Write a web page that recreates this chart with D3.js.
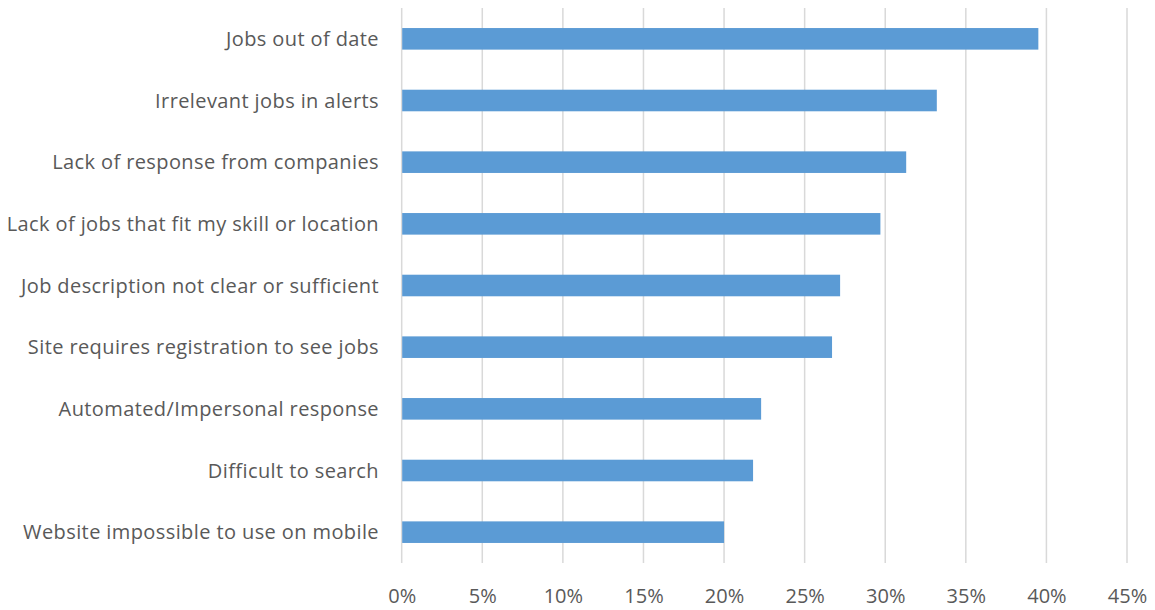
<!DOCTYPE html>
<html>
<head>
<meta charset="utf-8">
<script src="https://cdn.jsdelivr.net/npm/d3@7"></script>
<style>
  html, body { margin: 0; padding: 0; background: #fff; }
  svg { display: block; }
  text { font-family: "Open Sans", "Segoe UI", sans-serif; fill: #595959; }
</style>
</head>
<body>
<svg id="chart" width="1155" height="610"></svg>
<script>
// Complaints about job sites, share of respondents
const categories = [
  "Jobs out of date",
  "Irrelevant jobs in alerts",
  "Lack of response from companies",
  "Lack of jobs that fit my skill or location",
  "Job description not clear or sufficient",
  "Site requires registration to see jobs",
  "Automated/Impersonal response",
  "Difficult to search",
  "Website impossible to use on mobile"
];
const values = [39.5, 33.2, 31.3, 29.7, 27.2, 26.7, 22.3, 21.8, 20.0];
const ticks = [0, 5, 10, 15, 20, 25, 30, 35, 40, 45];

const svg = d3.select("#chart");
const margin = { top: 8, right: 28, bottom: 47, left: 401.7 };
const W = 1155, H = 610;

const x = d3.scaleLinear()
  .domain([0, 45])
  .range([margin.left, W - margin.right]);

const y = d3.scaleBand()
  .domain(categories)
  .range([margin.top, H - margin.bottom])
  .paddingInner(0.65)
  .paddingOuter(0.325);

// vertical gridlines
svg.append("g")
  .selectAll("line")
  .data(ticks)
  .join("line")
  .attr("x1", d => x(d))
  .attr("x2", d => x(d))
  .attr("y1", margin.top)
  .attr("y2", H - margin.bottom)
  .attr("stroke", "#d9d9d9")
  .attr("stroke-width", 1.5);

// bars
svg.append("g")
  .selectAll("rect")
  .data(values)
  .join("rect")
  .attr("x", x(0) + 0.5)
  .attr("y", (d, i) => y(categories[i]))
  .attr("width", d => x(d) - x(0) - 0.5)
  .attr("height", y.bandwidth())
  .attr("fill", "#5b9bd5");

// x axis labels
const xAxis = d3.axisBottom(x)
  .tickValues(ticks)
  .tickFormat(d => d + "%")
  .tickSize(0)
  .tickPadding(0);

const gx = svg.append("g")
  .attr("transform", `translate(0, ${H - margin.bottom})`)
  .call(xAxis);
gx.select(".domain").remove();
gx.selectAll("text")
  .attr("y", 0)
  .attr("dy", null)
  .attr("transform", "translate(0, 40)")
  .style("font-size", "20px")
  .attr("fill", "#595959");

// category labels
const yAxis = d3.axisLeft(y).tickSize(0).tickPadding(0);
const gy = svg.append("g")
  .attr("transform", `translate(379, 0)`)
  .call(yAxis);
gy.select(".domain").remove();
gy.selectAll("text")
  .style("font-size", "20px")
  .style("letter-spacing", "0.4px")
  .attr("fill", "#595959")
  .attr("dy", "0.35em");
</script>
</body>
</html>
